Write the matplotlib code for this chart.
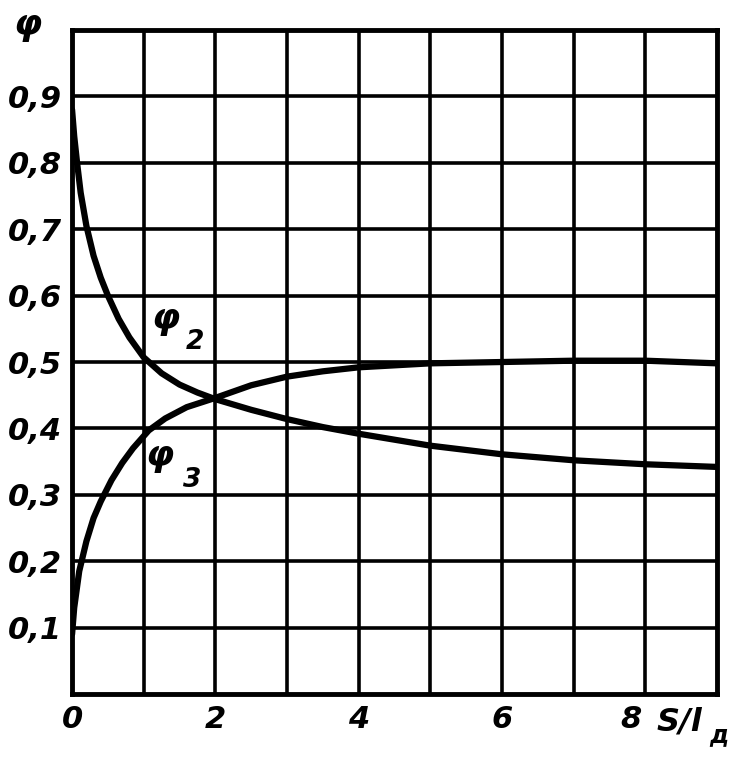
import matplotlib.pyplot as plt
from matplotlib.transforms import ScaledTranslation

# curve phi_2 (falling) and phi_3 (rising)
phi2_x = [0, 0.03, 0.07, 0.12, 0.2, 0.3, 0.4, 0.5, 0.65, 0.8, 1.0, 1.25, 1.5, 1.75,
          2.0, 2.5, 3.0, 3.5, 4.0, 5.0, 6.0, 7.0, 8.0, 9.0]
phi2_y = [0.88, 0.84, 0.8, 0.755, 0.705, 0.66, 0.627, 0.6, 0.565, 0.537, 0.507, 0.483, 0.466, 0.454,
          0.444, 0.428, 0.414, 0.402, 0.392, 0.374, 0.361, 0.352, 0.346, 0.342]

phi3_x = [0, 0.03, 0.1, 0.2, 0.3, 0.4, 0.55, 0.7, 0.85, 1.07, 1.3, 1.6, 2.0, 2.5,
          3.0, 3.5, 4.0, 5.0, 6.0, 7.0, 8.0, 9.0]
phi3_y = [0.09, 0.13, 0.185, 0.23, 0.265, 0.29, 0.322, 0.348, 0.37, 0.397, 0.415, 0.432, 0.446, 0.465,
          0.478, 0.486, 0.492, 0.498, 0.5, 0.502, 0.502, 0.498]

x_ticks = [0, 2, 4, 6, 8]
x_tick_labels = ['0', '2', '4', '6', '8']
y_ticks = [0.1, 0.2, 0.3, 0.4, 0.5, 0.6, 0.7, 0.8, 0.9]
y_tick_labels = ['0,1', '0,2', '0,3', '0,4', '0,5', '0,6', '0,7', '0,8', '0,9']

FONT = ['DejaVu Sans']
tick_font = dict(family=FONT, size=22, style='italic', weight='bold')

fig = plt.figure(figsize=(7.43, 7.70), dpi=100)
ax = fig.add_axes([0.097, 0.0987, 0.868, 0.8623])

ax.set_xlim(0, 9)
ax.set_ylim(0, 1.0)

# grid: every unit in x, every 0.1 in y
for gx in range(1, 9):
    ax.axvline(gx, color='black', linewidth=2.6, zorder=1)
for gy in range(1, 10):
    ax.axhline(gy / 10, color='black', linewidth=2.6, zorder=1)
ax.tick_params(which='both', length=0)

ax.set_xticks(x_ticks)
ax.set_xticklabels(x_tick_labels, fontdict=tick_font)
ax.set_yticks(y_ticks)
ax.set_yticklabels(y_tick_labels, fontdict=tick_font)
ax.tick_params(axis='x', pad=8)
ax.tick_params(axis='y', pad=7)

# the "8" sits a bit left of its grid line to leave room for the axis name
lab8 = ax.get_xticklabels()[-1]
lab8.set_transform(lab8.get_transform() + ScaledTranslation(-0.14, 0, fig.dpi_scale_trans))

for s in ax.spines.values():
    s.set_linewidth(3.5)

ax.plot(phi2_x, phi2_y, color='black', linewidth=4.5, solid_capstyle='round', zorder=5)
ax.plot(phi3_x, phi3_y, color='black', linewidth=4.5, solid_capstyle='round', zorder=5)

# curve labels
ax.text(1.3, 0.565, 'φ', fontsize=26, style='italic', weight='bold', family=FONT,
        ha='center', va='center')
ax.text(1.72, 0.53, '2', fontsize=19, style='italic', weight='bold', family=FONT,
        ha='center', va='center')
ax.text(1.22, 0.358, 'φ', fontsize=26, style='italic', weight='bold', family=FONT,
        ha='center', va='center')
ax.text(1.68, 0.322, '3', fontsize=19, style='italic', weight='bold', family=FONT,
        ha='center', va='center')

# axis names
fig.text(0.037, 0.968, 'φ', fontsize=26, style='italic', weight='bold', family=FONT,
         ha='center', va='center')
fig.text(0.915, 0.062, 'S/l', fontsize=23, style='italic', weight='bold', family=FONT,
         ha='center', va='center')
fig.text(0.968, 0.045, 'д', fontsize=17, style='italic', weight='bold', family=FONT,
         ha='center', va='center')

fig.savefig('out.png', dpi=100)
